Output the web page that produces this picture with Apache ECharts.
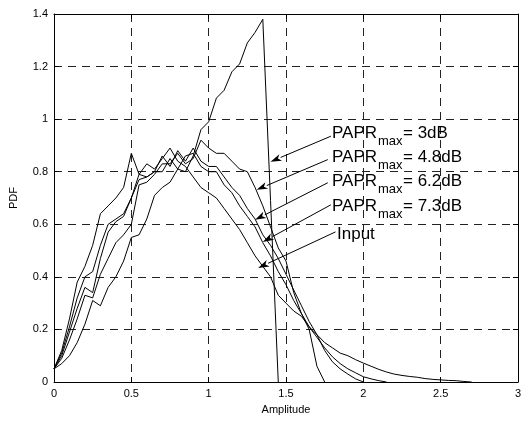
<!DOCTYPE html>
<html>
<head>
<meta charset="utf-8">
<script src="https://cdn.jsdelivr.net/npm/echarts@6/dist/echarts.min.js"></script>
<style>
  html, body { margin: 0; padding: 0; background: #fff; }
  #chart { width: 526px; height: 422px; }
</style>
</head>
<body>
<div id="chart"></div>
<script>
// amplitude grid, 0 .. 2.7 step 0.05
const amplitude = [0, 0.05, 0.1, 0.15, 0.2, 0.25, 0.3, 0.35, 0.4, 0.45, 0.5, 0.55, 0.6, 0.65, 0.7, 0.75, 0.8, 0.85, 0.9, 0.95,
  1, 1.05, 1.1, 1.15, 1.2, 1.25, 1.3, 1.35, 1.4, 1.45, 1.5, 1.55, 1.6, 1.65, 1.7, 1.75, 1.8, 1.85, 1.9, 1.95,
  2, 2.05, 2.1, 2.15, 2.2, 2.25, 2.3, 2.35, 2.4, 2.45, 2.5, 2.55, 2.6, 2.65, 2.7];

const pdfInput = [0.05, 0.12, 0.24, 0.38, 0.44, 0.52, 0.64, 0.67, 0.70, 0.74, 0.87, 0.79, 0.83, 0.81, 0.85, 0.89, 0.84, 0.82, 0.78, 0.74,
  0.72, 0.70, 0.66, 0.62, 0.58, 0.53, 0.48, 0.44, 0.40, 0.33, 0.30, 0.27, 0.25, 0.21, 0.18, 0.15, 0.13, 0.11, 0.10, 0.085,
  0.072, 0.060, 0.048, 0.038, 0.030, 0.025, 0.021, 0.018, 0.013, 0.010, 0.008, 0.006, 0.005, 0.002, 0];
const pdf73 = [0.05, 0.11, 0.21, 0.32, 0.40, 0.42, 0.52, 0.60, 0.62, 0.64, 0.70, 0.77, 0.78, 0.80, 0.80, 0.85, 0.81, 0.86, 0.87, 0.82,
  0.80, 0.80, 0.75, 0.72, 0.67, 0.63, 0.59, 0.53, 0.48, 0.42, 0.37, 0.31, 0.26, 0.21, 0.17, 0.13, 0.096, 0.07, 0.05, 0.035,
  0.02, 0.012, 0.005, 0];
const pdf62 = [0.05, 0.10, 0.19, 0.28, 0.36, 0.34, 0.47, 0.57, 0.61, 0.63, 0.70, 0.79, 0.78, 0.80, 0.86, 0.82, 0.88, 0.84, 0.89, 0.84,
  0.82, 0.82, 0.78, 0.74, 0.71, 0.66, 0.62, 0.56, 0.52, 0.47, 0.41, 0.35, 0.29, 0.23, 0.18, 0.12, 0.077, 0.05, 0.03, 0.012,
  0];
const pdf48 = [0.05, 0.09, 0.16, 0.24, 0.33, 0.32, 0.41, 0.47, 0.53, 0.56, 0.60, 0.75, 0.76, 0.79, 0.83, 0.83, 0.87, 0.83, 0.85, 0.92,
  0.89, 0.87, 0.87, 0.84, 0.81, 0.80, 0.74, 0.67, 0.59, 0.51, 0.46, 0.34, 0.26, 0.20, 0.06, 0];
const pdf3 = [0.05, 0.07, 0.10, 0.15, 0.22, 0.31, 0.29, 0.36, 0.40, 0.46, 0.55, 0.56, 0.62, 0.71, 0.74, 0.76, 0.81, 0.80, 0.86, 0.96,
  0.99, 1.08, 1.11, 1.18, 1.21, 1.29, 1.33, 1.38, 0.69, 0];

const xTicks = { min: 0, max: 3, interval: 0.5 };
const yTicks = { min: 0, max: 1.4, interval: 0.2 };

// annotation arrows: [text end, arrow tip] in data units
const arrows = [
  [[1.79, 0.935], [1.40, 0.838]],
  [[1.77, 0.846], [1.31, 0.731]],
  [[1.77, 0.758], [1.30, 0.617]],
  [[1.79, 0.674], [1.35, 0.533]],
  [[1.82, 0.571], [1.32, 0.434]]
];
const captions = ['3dB', '4.8dB', '6.2dB', '7.3dB'];

const font = 'Liberation Sans, Arial, Helvetica, sans-serif';

function pairs(vals) {
  return vals.map((v, i) => [amplitude[i], v]);
}

const chart = echarts.init(document.getElementById('chart'));

const gridLine = { show: true, lineStyle: { color: '#222', type: [8, 6], width: 1 } };

const axisCommon = {
  axisLine: { show: true, onZero: false, lineStyle: { color: '#000', width: 1 } },
  axisTick: { show: true, inside: true, length: 5, lineStyle: { color: '#000' } }
};

let lines = [
  { name: 'Input', data: pdfInput },
  { name: '7.3dB', data: pdf73 },
  { name: '6.2dB', data: pdf62 },
  { name: '4.8dB', data: pdf48 },
  { name: '3dB', data: pdf3 }
];

const series = lines.map(l => ({
  name: l.name,
  type: 'line',
  data: pairs(l.data),
  showSymbol: false,
  symbol: 'none',
  lineStyle: { color: '#000', width: 1 },
  animation: false
}));

chart.setOption({
  animation: false,
  backgroundColor: '#fff',
  grid: { left: 53, right: 8, top: 14, bottom: 40 },
  xAxis: [
    Object.assign({
      type: 'value', min: xTicks.min, max: xTicks.max, interval: xTicks.interval,
      name: 'Amplitude', nameLocation: 'middle', nameGap: 22,
      nameTextStyle: { fontSize: 11, fontFamily: font, color: '#000' },
      axisLabel: { fontSize: 11, fontFamily: font, color: '#000', margin: 6 },
      splitLine: gridLine
    }, axisCommon),
    Object.assign({
      type: 'value', position: 'top', min: xTicks.min, max: xTicks.max, interval: xTicks.interval,
      axisLabel: { show: false }, splitLine: { show: false }
    }, axisCommon)
  ],
  yAxis: [
    Object.assign({
      type: 'value', min: yTicks.min, max: yTicks.max, interval: yTicks.interval,
      name: 'PDF', nameLocation: 'middle', nameGap: 35,
      nameTextStyle: { fontSize: 11, fontFamily: font, color: '#000' },
      axisLabel: { fontSize: 11, fontFamily: font, color: '#000', margin: 6 },
      splitLine: gridLine
    }, axisCommon),
    Object.assign({
      type: 'value', position: 'right', min: yTicks.min, max: yTicks.max, interval: yTicks.interval,
      axisLabel: { show: false }, splitLine: { show: false }
    }, axisCommon)
  ],
  series: series
});

// labels and arrows
const graphics = [];
captions.forEach((c, i) => {
  const top = 124.5 + i * 24.4;
  graphics.push({ type: 'text', left: 332, top: top,
    style: { text: 'PAPR', fontSize: 17, fontFamily: font, fill: '#000' } });
  graphics.push({ type: 'text', left: 378, top: top + 10,
    style: { text: 'max', fontSize: 13, fontFamily: font, fill: '#000' } });
  graphics.push({ type: 'text', left: 403, top: top,
    style: { text: '= ' + c, fontSize: 17, fontFamily: font, fill: '#000' } });
});
graphics.push({ type: 'text', left: 337, top: 226,
  style: { text: 'Input', fontSize: 17, fontFamily: font, fill: '#000' } });

arrows.forEach(a => {
  const p0 = chart.convertToPixel({ gridIndex: 0 }, a[0]);
  const p1 = chart.convertToPixel({ gridIndex: 0 }, a[1]);
  const dx = p1[0] - p0[0], dy = p1[1] - p0[1];
  const len = Math.sqrt(dx * dx + dy * dy);
  const ux = dx / len, uy = dy / len;
  const headLen = 11, headW = 3.5;
  const bx = p1[0] - ux * headLen, by = p1[1] - uy * headLen;
  graphics.push({ type: 'line', silent: true,
    shape: { x1: p0[0], y1: p0[1], x2: bx, y2: by },
    style: { stroke: '#000', lineWidth: 1 } });
  graphics.push({ type: 'polygon', silent: true,
    shape: { points: [[p1[0], p1[1]], [bx - uy * headW, by + ux * headW], [bx + ux * 3, by + uy * 3], [bx + uy * headW, by - ux * headW]] },
    style: { fill: '#000' } });
});

chart.setOption({ graphic: graphics });
</script>
</body>
</html>
